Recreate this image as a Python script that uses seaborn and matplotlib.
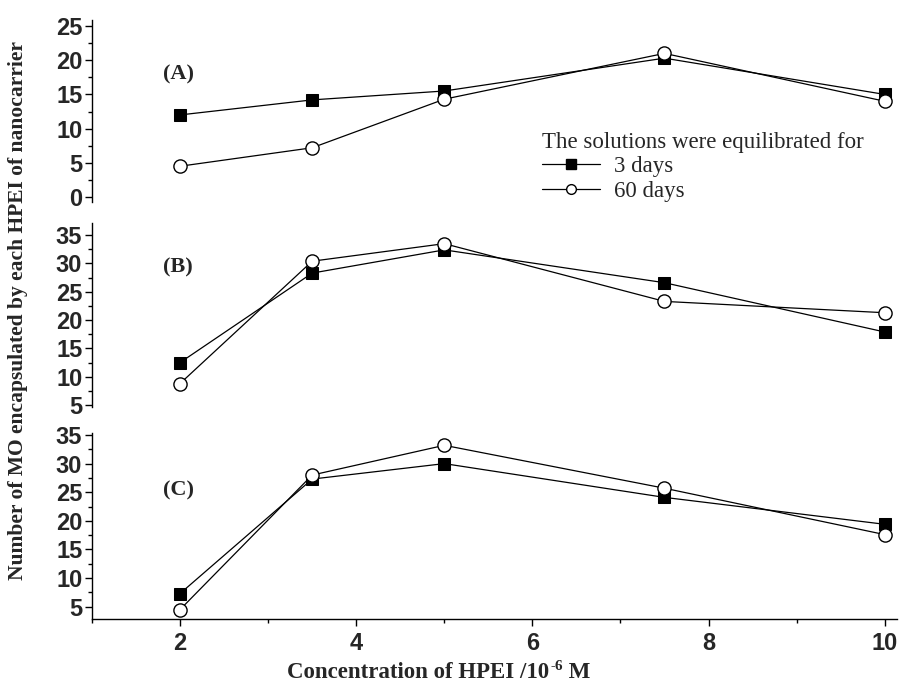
import numpy as np
import pandas as pd
import seaborn as sns
import matplotlib
matplotlib.use("Agg")
import matplotlib.pyplot as plt
from matplotlib.lines import Line2D
from matplotlib.ticker import MultipleLocator
from matplotlib.font_manager import FontProperties

# ---- data ----
conc = [2, 3.5, 5, 7.5, 10]
a_3days = [12.0, 14.2, 15.5, 20.3, 15.0]
a_60days = [4.5, 7.2, 14.3, 21.0, 14.0]
b_3days = [12.5, 28.3, 32.4, 26.6, 17.9]
b_60days = [8.8, 30.4, 33.5, 23.3, 21.3]
c_3days = [7.3, 27.3, 30.0, 24.1, 19.4]
c_60days = [4.5, 28.0, 33.2, 25.7, 17.6]
panel_labels = ["(A)", "(B)", "(C)"]
x_ticks = [2, 4, 6, 8, 10]
series_names = ["3 days", "60 days"]

sns.set_theme(style="white")
plt.rcParams["font.family"] = ["Liberation Serif", "DejaVu Serif"]

fig = plt.figure(figsize=(9.01, 6.84), dpi=100)
W, H = 901, 684

def add_axes(top_px, bot_px):
    return fig.add_axes([92 / W, 1 - bot_px / H, (897 - 92) / W, (bot_px - top_px) / H])

axA = add_axes(20, 202)
axB = add_axes(222.7, 407)
axC = add_axes(433, 619)

panels = [
    (axA, a_3days, a_60days, (-0.73, 25.88)),
    (axB, b_3days, b_60days, (4.65, 37.2)),
    (axC, c_3days, c_60days, (2.85, 35.35)),
]

tick_font = dict(family="Liberation Sans", weight="bold", size=17)

for i, (ax, s3, s60, ylim) in enumerate(panels):
    df3 = pd.DataFrame({"conc": conc, "val": s3})
    df60 = pd.DataFrame({"conc": conc, "val": s60})
    sns.lineplot(data=df3, x="conc", y="val", ax=ax, color="black", lw=0.9,
                 marker="s", markersize=8.5, markerfacecolor="black",
                 markeredgecolor="black", zorder=3)
    sns.lineplot(data=df60, x="conc", y="val", ax=ax, color="black", lw=0.9,
                 marker="o", markersize=9.5, markerfacecolor="white",
                 markeredgecolor="black", markeredgewidth=1.0, zorder=4)
    ax.set_xlim(1.0, 10.14)
    ax.set_ylim(*ylim)
    ax.set_xlabel("")
    ax.set_ylabel("")
    ax.set_facecolor("none")
    for side in ["top", "right"]:
        ax.spines[side].set_visible(False)
    ax.spines["left"].set_color("black")
    ax.spines["left"].set_linewidth(1.0)
    ax.yaxis.set_major_locator(MultipleLocator(5))
    ax.yaxis.set_minor_locator(MultipleLocator(2.5))
    ax.tick_params(axis="y", which="major", direction="out", length=5, width=1,
                   color="black", left=True, pad=2)
    ax.tick_params(axis="y", which="minor", direction="out", length=3, width=1,
                   color="black", left=True)
    for lab in ax.get_yticklabels():
        lab.set_fontproperties(FontProperties(**tick_font))
    if ax is not axC:
        ax.spines["bottom"].set_visible(False)
        ax.set_xticks([])
    else:
        ax.spines["bottom"].set_color("black")
        ax.spines["bottom"].set_linewidth(1.0)
        ax.set_xticks(x_ticks)
        ax.xaxis.set_minor_locator(MultipleLocator(1))
        ax.tick_params(axis="x", which="major", direction="out", length=5, width=1,
                       color="black", bottom=True, pad=4)
        ax.tick_params(axis="x", which="minor", direction="out", length=3, width=1,
                       color="black", bottom=True)
        ax.set_xticklabels([str(t) for t in x_ticks])
        for lab in ax.get_xticklabels():
            lab.set_fontproperties(FontProperties(**tick_font))

# Panel labels
for lab, ypx in zip(panel_labels, [74, 267, 490]):
    fig.text(178 / W, 1 - ypx / H, lab, ha="center", va="center",
             fontsize=16, fontweight="bold")

# Axis labels
fig.text(18 / W, 1 - 310 / H, "Number of MO encapsulated by each HPEI of nanocarrier",
         rotation=90, ha="center", va="center", fontsize=15.5, fontweight="bold")

# x label with small superscript "-6"
renderer = fig.canvas.get_renderer()
base_y = 1 - 678 / H
t1 = fig.text(287 / W, base_y, "Concentration of HPEI /10", ha="left", va="baseline",
              fontsize=16.5, fontweight="bold")
bb1 = t1.get_window_extent(renderer)
t2 = fig.text(bb1.x1 / W + 1 / W, base_y + 8 / H, "-6", ha="left", va="baseline",
              fontsize=11, fontweight="bold")
bb2 = t2.get_window_extent(renderer)
fig.text(bb2.x1 / W, base_y, " M", ha="left", va="baseline",
         fontsize=16.5, fontweight="bold")

# Legend
handles = [
    Line2D([], [], color="black", lw=0.9, marker="s", markersize=7,
           markerfacecolor="black", markeredgecolor="black"),
    Line2D([], [], color="black", lw=0.9, marker="o", markersize=7,
           markerfacecolor="white", markeredgecolor="black"),
]
leg = fig.legend(handles, series_names, title="The solutions were equilibrated for",
                 loc="upper left", bbox_to_anchor=(542 / W, 1 - 132 / H),
                 frameon=False, fontsize=16.5, title_fontsize=16.5,
                 handlelength=2.55, handletextpad=0.57, labelspacing=0.15,
                 borderpad=0, borderaxespad=0)
leg._legend_box.align = "left"

fig.savefig("out.png", dpi=100)
